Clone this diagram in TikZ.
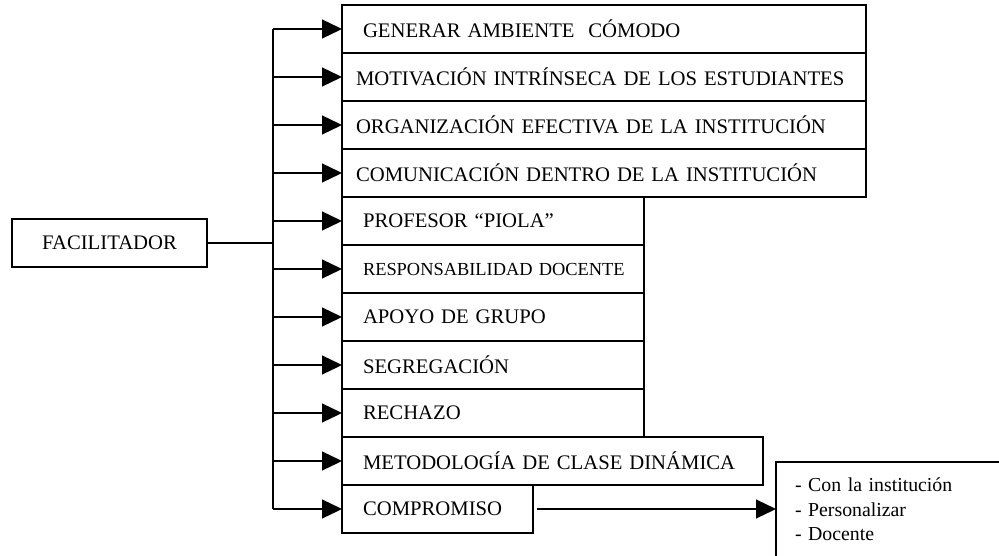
\documentclass[tikz,border=0pt]{standalone}
\usepackage{fontspec}
\setmainfont{Liberation Serif}
\usetikzlibrary{positioning,arrows.meta}
\tikzstyle{item}=[rectangle,draw=black,line width=1.3pt,outer sep=0pt,inner ysep=0pt,
minimum height=48pt,align=left,anchor=north west,font=\fontsize{20.7pt}{24pt}\selectfont]
\tikzstyle{wide}=[item,inner xsep=14pt,text width=496pt]
\tikzstyle{narrow}=[item,inner xsep=21pt,text width=260pt]
\tikzstyle{root}=[rectangle,draw=black,line width=1.3pt,outer sep=0pt,minimum width=195pt,
minimum height=48pt,text centered,font=\fontsize{20.7pt}{24pt}\selectfont]
\tikzstyle{arrow}=[line width=1.3pt,-{Triangle[length=20pt,width=19pt]}]
\tikzstyle{line}=[line width=1.3pt]

\begin{document}
\begin{tikzpicture}[x=1pt,y=-1pt]
    \useasboundingbox (0,0) rectangle (999,556);
    \clip (0,0) rectangle (999,556);

        \node (fac) [root] at (109.5,243) {FACILITADOR};
        \coordinate (bus) at (273,243);

        \node (p1) [wide,inner xsep=21pt,text width=482pt] at (342,5) {GENERAR AMBIENTE\ \ CÓMODO};
        \node (p2) [wide,below=0pt of p1.south west,anchor=north west] {MOTIVACIÓN INTRÍNSECA DE LOS ESTUDIANTES};
        \node (p3) [wide,below=0pt of p2.south west,anchor=north west] {ORGANIZACIÓN EFECTIVA DE LA INSTITUCIÓN};
        \node (p4) [wide,below=0pt of p3.south west,anchor=north west] {COMUNICACIÓN DENTRO DE LA INSTITUCIÓN};
        \node (p5) [narrow,below=0pt of p4.south west,anchor=north west] {PROFESOR “PIOLA”};
        \node (p6) [narrow,below=0pt of p5.south west,anchor=north west,font=\fontsize{18.4pt}{22pt}\selectfont] {\mbox{RESPONSABILIDAD DOCENTE}};
        \node (p7) [narrow,below=0pt of p6.south west,anchor=north west] {APOYO DE GRUPO};
        \node (p8) [narrow,below=0pt of p7.south west,anchor=north west] {SEGREGACIÓN};
        \node (p9) [narrow,below=0pt of p8.south west,anchor=north west] {RECHAZO};
        \node (p10) [narrow,text width=379pt,below=0pt of p9.south west,anchor=north west] {METODOLOGÍA DE CLASE DINÁMICA};
        \node (p11) [narrow,text width=149pt,below=0pt of p10.south west,anchor=north west] {COMPROMISO};

        \node (list) [item,inner xsep=19pt,inner ysep=16pt,text width=240pt,minimum height=0pt,text depth=60pt,
        font=\fontsize{19.8pt}{24.5pt}\selectfont] at (776,462) {- Con la institución\\- Personalizar\\- Docente};

        \draw [line] (fac.east) -- (fac.east -| bus);
        \draw [line] (p1.west -| bus) -- (p11.west -| bus);
        \draw [arrow] (p1.west -| bus) -- (p1.west);
        \draw [arrow] (p2.west -| bus) -- (p2.west);
        \draw [arrow] (p3.west -| bus) -- (p3.west);
        \draw [arrow] (p4.west -| bus) -- (p4.west);
        \draw [arrow] (p5.west -| bus) -- (p5.west);
        \draw [arrow] (p6.west -| bus) -- (p6.west);
        \draw [arrow] (p7.west -| bus) -- (p7.west);
        \draw [arrow] (p8.west -| bus) -- (p8.west);
        \draw [arrow] (p9.west -| bus) -- (p9.west);
        \draw [arrow] (p10.west -| bus) -- (p10.west);
        \draw [arrow] (p11.west -| bus) -- (p11.west);
        \draw [arrow] ([xshift=4pt]p11.east) -- (p11.east -| list.west);

\end{tikzpicture}
\end{document}
